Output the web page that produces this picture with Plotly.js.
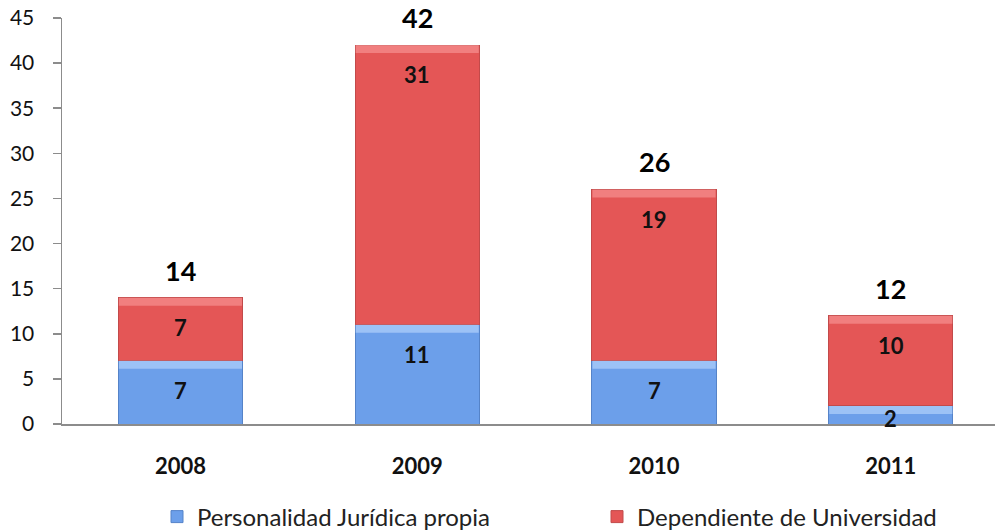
<!DOCTYPE html>
<html><head><meta charset="utf-8">
<script src="https://cdn.plot.ly/plotly-3.0.1.min.js"></script>
<style>html,body{margin:0;padding:0;background:#fff}#c{width:997px;height:532px}</style>
</head><body><div id="c"></div>
<script>
const years = ['2008','2009','2010','2011'];
const propia = [7, 11, 7, 2];
const universidad = [7, 31, 19, 10];
const seriesNames = ['Personalidad Jurídica propia', 'Dependiente de Universidad'];
const totals = years.map((y,i)=>propia[i]+universidad[i]);
const yTicks = [0,5,10,15,20,25,30,35,40,45];

const FONT = 'Lato, "Noto Sans", sans-serif';
const blue = '#6c9fea', red = '#e45656';

const traces = [
  {type:'bar', name:seriesNames[0], x:years, y:propia, legend:'legend', marker:{color:blue, line:{color:'#5583c8', width:1}}, hoverinfo:'none'},
  {type:'bar', name:seriesNames[1], x:years, y:universidad, legend:'legend2', marker:{color:red, line:{color:'#c24a4a', width:1}}, hoverinfo:'none'}
];

// light top band on each segment (bevel look), anchored to data values
const shapes = [];
years.forEach((yr,i)=>{
  [[propia[i], propia[i], '#c4deff'], [totals[i], universidad[i], '#fba3a3']].forEach(([top,h,col])=>{
    shapes.push({type:'rect', xref:'x', yref:'y', x0:i-0.26, x1:i+0.26, ysizemode:'pixel', yanchor:top, y0:-Math.min(8, h*4.5), y1:0, fillcolor:col, opacity:0.55, line:{width:0}, layer:'above'});
  });
});

const ann = [];
years.forEach((yr,i)=>{
  const t1 = propia[i];
  const p1 = Math.max(t1-3.3, t1*0.33);
  ann.push({x:i, y:p1, text:'<b>'+propia[i]+'</b>', showarrow:false, yanchor:'middle', font:{family:FONT, size:22, color:'#111'}});
  const t2 = totals[i];
  ann.push({x:i, y:t2-3.3, text:'<b>'+universidad[i]+'</b>', showarrow:false, yanchor:'middle', font:{family:FONT, size:22, color:'#111'}});
  ann.push({x:i, y:t2, text:'<b>'+totals[i]+'</b>', showarrow:false, yanchor:'bottom', yshift:9, font:{family:FONT, size:27, color:'#000'}});
});

const legFont = {family:FONT, size:24, color:'#222'};
const layout = {
  width:997, height:532,
  margin:{l:62, r:2, t:18, b:108},
  paper_bgcolor:'#fff', plot_bgcolor:'#fff',
  barmode:'stack', bargap:0.476,
  showlegend:true,
  legend:{orientation:'h', xref:'container', yref:'container', x:157/997, xanchor:'left', y:1-517/532, yanchor:'middle', font:legFont, bgcolor:'rgba(0,0,0,0)'},
  legend2:{orientation:'h', xref:'container', yref:'container', x:597/997, xanchor:'left', y:1-517/532, yanchor:'middle', font:legFont, bgcolor:'rgba(0,0,0,0)'},
  xaxis:{type:'category', range:[-0.5,3.44], showline:true, linecolor:'#8c8c8c', linewidth:1.5, ticks:'', ticklabelstandoff:22, tickfont:{family:FONT, size:22, color:'#111', weight:'bold'}, fixedrange:true},
  yaxis:{range:[0,45], tickvals:yTicks, showgrid:false, zeroline:false, showline:true, linecolor:'#8c8c8c', linewidth:1.5, ticks:'outside', ticklen:8, tickcolor:'#8c8c8c', tickwidth:1.5, ticklabelstandoff:14, tickfont:{family:FONT, size:21, color:'#111'}, fixedrange:true},
  shapes:shapes,
  annotations:ann
};
Plotly.newPlot('c', traces, layout, {displayModeBar:false, staticPlot:true});
</script></body></html>
